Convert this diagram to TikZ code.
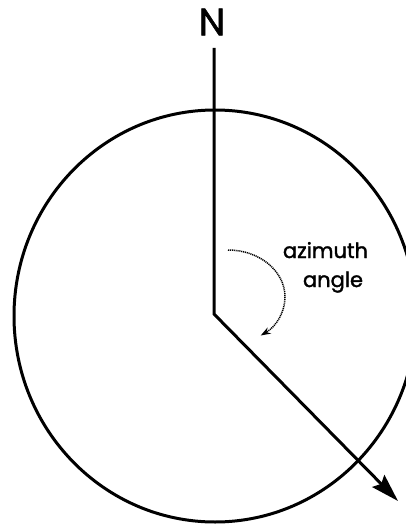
\documentclass[tikz,border=0pt]{standalone}
\usepackage{fontspec}
\setmainfont{Poppins}
\newfontfamily\lblfont{Poppins}[FakeBold=1.5]
\usetikzlibrary{arrows.meta}
\begin{document}
\begin{tikzpicture}[x=1pt,y=-1pt,
  thick line/.style={line width=3pt},
  lbl/.style={inner sep=0pt, font=\lblfont\fontsize{21}{21}\selectfont},
  dotarc/.style={line width=1.5pt, black, dash pattern=on 1.1pt off 0.8pt, -{Stealth[length=10pt,width=7pt]}}]
\useasboundingbox (0,0) rectangle (406,529);
\clip (0,0) rectangle (406,529);
\fill[white] (0,0) rectangle (406,529);
\coordinate (C) at (215,316);
\coordinate (top) at (214,48);
\coordinate (O) at (214,314);
\coordinate (tip) at (398,501);
\draw[thick line] (C) ellipse [x radius=201, y radius=206];
\draw[thick line, line join=miter, -{Stealth[length=28pt,width=17pt,inset=4pt]}] (top) -- (O) -- (tip);
\node[inner sep=0pt, font=\lblfont\fontsize{38}{38}\selectfont] (N) at (212,22) {N};
\draw[dotarc] (228,250) arc[start angle=-90, end angle=55, x radius=57, y radius=47];
\node[lbl, anchor=base] (az) at (325.5,258) {azimuth};
\node[lbl, anchor=base] (an) at (333,287) {angle};
\end{tikzpicture}
\end{document}
